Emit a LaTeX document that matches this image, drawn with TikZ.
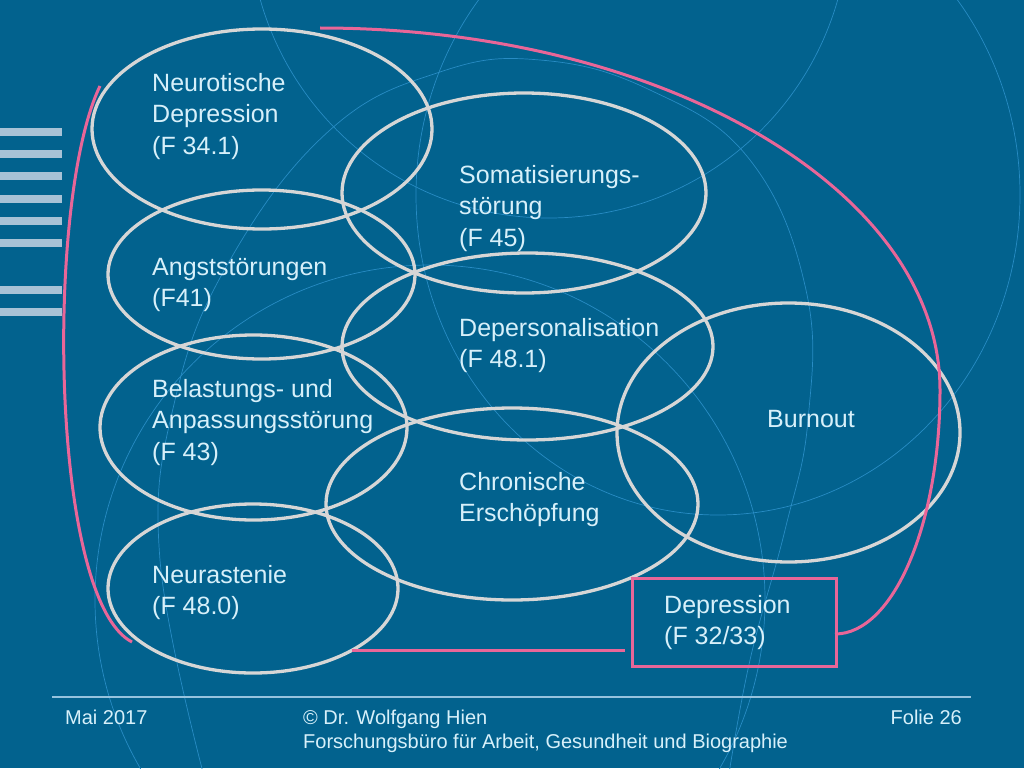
\documentclass[tikz,border=0pt]{standalone}
\usepackage{fontspec}
\setmainfont{Liberation Sans}
\usetikzlibrary{shapes.geometric}
\definecolor{bgblue}{RGB}{2,98,142}
\definecolor{bgline}{RGB}{40,140,196}
\definecolor{ellgray}{RGB}{214,214,214}
\definecolor{pinkc}{RGB}{233,102,152}
\definecolor{txtc}{RGB}{215,240,250}
\definecolor{stripec}{RGB}{168,194,214}
\definecolor{footline}{RGB}{150,195,222}
\tikzset{
  ell/.style={ellipse, draw=ellgray, line width=3.3pt, inner sep=0pt},
  lbl/.style={text=txtc, font=\fontsize{25}{31.5}\selectfont, align=left, inner sep=0pt, anchor=north west},
  foot/.style={text=txtc, font=\fontsize{20}{24}\selectfont, align=left, inner sep=0pt},
  pinkline/.style={draw=pinkc, line width=3pt},
  bgarc/.style={draw=bgline, line width=0.7pt},
  stripe/.style={fill=stripec}
}
\begin{document}
\begin{tikzpicture}[x=1pt,y=-1pt]
\path[use as bounding box, fill=bgblue] (0,0) rectangle (1024,768);
% background decoration
\begin{scope}
\clip (0,0) rectangle (1024,768);
\draw[bgarc] (549,-82) circle[radius=300];
\draw[bgarc] (718,195) ellipse[x radius=302, y radius=320];
\draw[bgarc] (430,600) circle[radius=335];
\draw[bgarc] plot[smooth, tension=0.7] coordinates {(205,780) (160,560) (175,400) (230,260) (330,130) (440,72) (540,60) (650,90) (750,160) (806,290) (808,420) (785,530) (750,660) (728,780)};
\end{scope}
% stripes
\foreach \yy in {128,150,172,195,217,239,286,308}
  \fill[stripec] (0,\yy) rectangle (62,\yy+8);
% ellipses
\node[ell, minimum width=340pt, minimum height=200pt] (neuro) at (262,129) {};
\node[ell, minimum width=307pt, minimum height=169pt] (angst) at (261.5,274.5) {};
\node[ell, minimum width=307pt, minimum height=185pt] (belast) at (253.5,427.5) {};
\node[ell, minimum width=290pt, minimum height=169pt] (neura) at (253,588.5) {};
\node[ell, minimum width=364pt, minimum height=200pt] (somat) at (524,193) {};
\node[ell, minimum width=371pt, minimum height=187pt] (depers) at (527.5,346.5) {};
\node[ell, minimum width=372pt, minimum height=192pt] (chron) at (512,504) {};
\node[ell, minimum width=343pt, minimum height=259pt] (burn) at (788.5,432.5) {};
% labels
\node[lbl] (tneuro) at (152,73) {Neurotische\\Depression\\(F 34.1)};
\node[lbl] (tangst) at (152,258) {Angststörungen\\(F41)};
\node[lbl] (tbelast) at (152,379) {Belastungs- und\\Anpassungsstörung\\(F 43)};
\node[lbl] (tneura) at (152,565) {Neurastenie\\(F 48.0)};
\node[lbl] (tsomat) at (459,165) {Somatisierungs-\\störung\\(F 45)};
\node[lbl] (tdepers) at (459,318) {Depersonalisation\\(F 48.1)};
\node[lbl] (tchron) at (459,472) {Chronische\\Erschöpfung};
\node[lbl] (tburn) at (767,410) {Burnout};
% depression box
\node[draw=pinkc, line width=3pt, minimum width=204pt, minimum height=88pt, inner sep=0pt] (depbox) at (734,622) {};
\node[lbl] (tdep) at (664,595) {Depression\\(F 32/33)};
% pink connectors
\coordinate (pl1) at (100,86);
\coordinate (pl2) at (132,642);
\draw[pinkline] (pl1) .. controls (45,200) and (50,600) .. (pl2);
\coordinate (ptop) at (320,28);
\draw[pinkline] (ptop) arc[start angle=-90, end angle=0, x radius=620, y radius=362]
  arc[start angle=0, end angle=90, x radius=105, y radius=244];
\coordinate (pb1) at (352,650);
\coordinate (pb2) at (625,650);
\draw[pinkline] (pb1) -- (pb2);
% footer
\coordinate (fl1) at (52,697);
\coordinate (fl2) at (971,697);
\draw[footline, line width=1.2pt] (fl1) -- (fl2);
\node[foot, anchor=north west] (fdate) at (65,710) {Mai 2017};
\node[foot, anchor=north west] (fauth) at (303,710) {© Dr. Wolfgang Hien\\Forschungsbüro für Arbeit, Gesundheit und Biographie};
\node[foot, anchor=north east] (fslide) at (962,710) {Folie 26};
\end{tikzpicture}
\end{document}
